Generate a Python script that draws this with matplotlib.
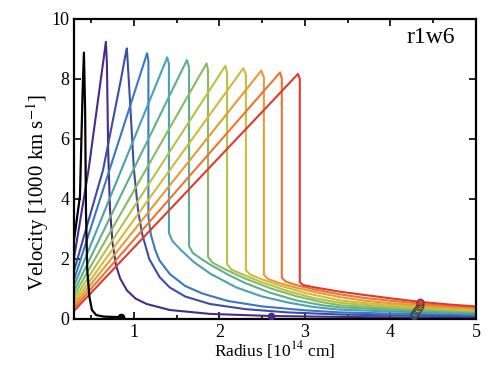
import matplotlib
matplotlib.use("Agg")
import matplotlib.pyplot as plt

plt.rcParams['font.family'] = ['Liberation Serif', 'DejaVu Serif']
plt.rcParams['mathtext.fontset'] = 'stix'

# ---- data (radius in 1e14 cm, velocity in 1000 km/s) ----
black_x = [0.30, 0.37, 0.40, 0.416, 0.43, 0.44, 0.455, 0.48, 0.51, 0.56, 0.65, 0.85]
black_y = [2.63, 4.10, 7.50, 8.88, 6.97, 3.60, 1.63, 0.74, 0.30, 0.13, 0.08, 0.06]

c1_x = [0.30, 0.47, 0.60, 0.65, 0.673, 0.685, 0.70, 0.72, 0.75, 0.79, 0.84, 0.92, 1.02, 1.15, 1.42, 1.89, 2.60, 3.40, 4.20, 5.00]
c1_y = [2.03, 4.97, 7.70, 8.75, 9.24, 8.50, 5.60, 3.70, 2.55, 1.80, 1.35, 0.95, 0.68, 0.50, 0.30, 0.17, 0.10, 0.07, 0.05, 0.04]

c2_x = [0.30, 0.64, 0.85, 0.905, 0.918, 0.94, 0.97, 1.00, 1.05, 1.10, 1.18, 1.30, 1.42, 1.60, 1.89, 2.30, 2.80, 3.41, 4.00, 5.00]
c2_y = [1.60, 4.97, 8.00, 8.85, 9.02, 8.00, 6.50, 5.00, 3.60, 2.80, 2.00, 1.40, 1.05, 0.75, 0.50, 0.33, 0.22, 0.15, 0.12, 0.09]

c3_x = [0.30, 1.155, 1.17, 1.17, 1.20, 1.25, 1.30, 1.42, 1.60, 1.80, 2.10, 2.50, 3.00, 3.41, 4.00, 5.00]
c3_y = [1.30, 8.86, 8.60, 3.40, 2.80, 2.30, 1.95, 1.50, 1.10, 0.85, 0.60, 0.42, 0.29, 0.22, 0.18, 0.14]

c4_x = [0.30, 1.39, 1.41, 1.41, 1.45, 1.55, 1.70, 1.90, 2.20, 2.50, 2.80, 3.10, 3.41, 4.00, 4.50, 5.00]
c4_y = [1.10, 8.72, 8.50, 2.87, 2.60, 2.30, 1.90, 1.50, 1.05, 0.75, 0.55, 0.40, 0.31, 0.25, 0.21, 0.18]

c5_x = [0.30, 1.62, 1.645, 1.645, 1.69, 1.80, 1.90, 2.10, 2.30, 2.60, 2.90, 3.20, 3.41, 4.00, 4.50, 5.00]
c5_y = [0.92, 8.63, 8.40, 2.43, 2.20, 1.98, 1.80, 1.48, 1.20, 0.87, 0.62, 0.46, 0.39, 0.31, 0.26, 0.22]

c6_x = [0.30, 1.85, 1.867, 1.867, 1.92, 2.05, 2.30, 2.60, 2.90, 3.20, 3.41, 3.70, 4.00, 4.50, 5.00]
c6_y = [0.78, 8.52, 8.30, 2.07, 1.88, 1.68, 1.35, 1.02, 0.76, 0.56, 0.46, 0.41, 0.36, 0.30, 0.25]

c7_x = [0.30, 2.07, 2.09, 2.09, 2.14, 2.30, 2.50, 2.80, 3.10, 3.41, 3.70, 4.00, 4.50, 5.00]
c7_y = [0.65, 8.44, 8.20, 1.83, 1.65, 1.45, 1.22, 0.93, 0.70, 0.54, 0.47, 0.41, 0.34, 0.28]

c8_x = [0.30, 2.28, 2.31, 2.31, 2.36, 2.50, 2.70, 3.00, 3.41, 3.70, 4.00, 4.50, 5.00]
c8_y = [0.54, 8.36, 8.15, 1.63, 1.48, 1.32, 1.12, 0.87, 0.62, 0.53, 0.47, 0.38, 0.31]

c9_x = [0.30, 2.49, 2.52, 2.52, 2.57, 2.70, 2.90, 3.10, 3.41, 3.70, 4.00, 4.50, 5.00]
c9_y = [0.45, 8.28, 8.05, 1.47, 1.33, 1.20, 1.04, 0.91, 0.73, 0.61, 0.53, 0.42, 0.34]

c10_x = [0.30, 2.71, 2.73, 2.73, 2.78, 2.90, 3.10, 3.41, 3.70, 4.00, 4.50, 5.00]
c10_y = [0.36, 8.22, 8.00, 1.37, 1.24, 1.13, 0.99, 0.82, 0.70, 0.61, 0.47, 0.38]

c11_x = [0.30, 2.92, 2.94, 2.94, 2.98, 3.10, 3.41, 3.70, 4.00, 4.35, 4.70, 5.00]
c11_y = [0.27, 8.17, 8.00, 1.23, 1.13, 1.06, 0.91, 0.80, 0.69, 0.57, 0.48, 0.42]

# photosphere markers
ph_black = (0.85, 0.06)
ph_c1 = (2.60, 0.10)
ph_x = [4.27, 4.28, 4.29, 4.30, 4.31, 4.32, 4.33, 4.34, 4.345, 4.35]
ph_y = [0.10, 0.15, 0.20, 0.25, 0.30, 0.34, 0.39, 0.44, 0.49, 0.55]

colors = ['#4a2a8c', '#3b4ea3', '#3a78c0', '#4aa0b5', '#5fae8c', '#86bb60',
          '#b4c24a', '#d6b83c', '#e89a35', '#ec7530', '#e23a2a']

curves = [(c1_x, c1_y), (c2_x, c2_y), (c3_x, c3_y), (c4_x, c4_y), (c5_x, c5_y),
          (c6_x, c6_y), (c7_x, c7_y), (c8_x, c8_y), (c9_x, c9_y), (c10_x, c10_y),
          (c11_x, c11_y)]

fig = plt.figure(figsize=(5.01, 3.76), dpi=100)
ax = fig.add_axes([0.1477, 0.1516, 0.8023, 0.7979])

ax.plot(black_x, black_y, color='black', lw=1.6, zorder=5)
for (xs, ys), c in zip(curves, colors):
    ax.plot(xs, ys, color=c, lw=1.5)

ax.plot(*ph_black, 'o', color='black', ms=4.5, zorder=6)
ax.plot(*ph_c1, 'o', color=colors[0], ms=4.5, zorder=6)
for i, (px, py) in enumerate(zip(ph_x, ph_y)):
    ax.plot(px, py, 'o', mfc=colors[i + 1], mec='#333333', mew=0.6, ms=5, zorder=6)

ax.set_xlim(0.3, 5)
ax.set_ylim(0, 10)
ax.set_xticks([1, 2, 3, 4, 5])
ax.set_xticks([0.5, 1.5, 2.5, 3.5, 4.5], minor=True)
ax.set_yticks([0, 2, 4, 6, 8, 10])
ax.tick_params(which='both', direction='in', top=True, right=True, labelsize=13, width=1.2)
ax.tick_params(which='major', length=5)
ax.tick_params(which='minor', length=3)
for s in ax.spines.values():
    s.set_linewidth(1.6)

ax.set_xlabel('Radius [10$^{14}$ cm]', fontsize=12.5, labelpad=-1)
ax.set_ylabel('Velocity [1000 km s$^{-1}$]', fontsize=15)
ax.yaxis.set_label_coords(-0.057, 0.42)
ax.text(0.948, 0.937, 'r1w6', transform=ax.transAxes, ha='right', va='center', fontsize=17)

fig.savefig('out.png', dpi=100)
